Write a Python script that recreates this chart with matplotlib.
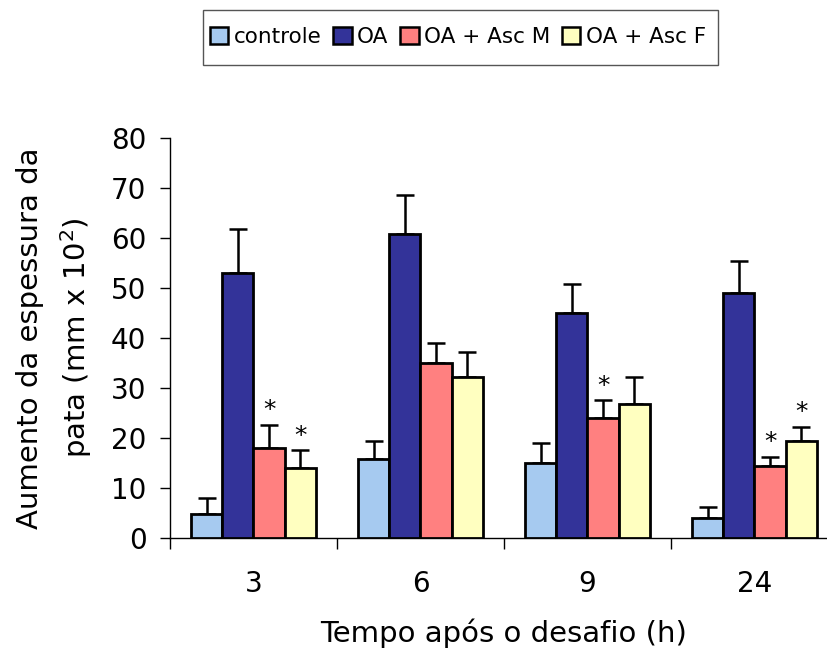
import matplotlib
matplotlib.use("Agg")
import matplotlib.pyplot as plt
from matplotlib.patches import Rectangle
import numpy as np

categories = ["3", "6", "9", "24"]
series_names = ["controle", "OA", "OA + Asc M", "OA + Asc F"]
controle = [4.9, 15.9, 15.1, 4.0]
oa = [53.1, 60.8, 45.0, 49.1]
asc_m = [18.1, 35.0, 24.1, 14.5]
asc_f = [14.0, 32.3, 26.8, 19.5]
err_controle = [3.2, 3.6, 4.0, 2.3]
err_oa = [8.8, 7.9, 5.9, 6.4]
err_asc_m = [4.6, 4.1, 3.6, 1.8]
err_asc_f = [3.7, 5.0, 5.5, 2.8]
# significance markers (category index, series index)
signif = [(0, 2), (0, 3), (2, 2), (3, 2), (3, 3)]
colors = ["#A6CAF0", "#333399", "#FF8080", "#FFFFC0"]

plt.rcParams['font.family'] = ['DejaVu Sans']

fig = plt.figure(figsize=(8.28, 6.61), dpi=100)
W, H = 828, 661
ax = fig.add_axes([170 / W, (H - 538) / H, (838 - 170) / W, 400 / H])

values = [controle, oa, asc_m, asc_f]
errors = [err_controle, err_oa, err_asc_m, err_asc_f]
x = np.arange(len(categories))
w = 0.186
for i, (vals, errs) in enumerate(zip(values, errors)):
    pos = x + (i - 1.5) * w
    ax.bar(pos, vals, width=w, color=colors[i], edgecolor="black",
           linewidth=2.0, label=series_names[i], zorder=3)
    ax.errorbar(pos, vals, yerr=[np.zeros(len(vals)), errs], fmt="none",
                ecolor="black", elinewidth=1.8, capsize=6.5, capthick=1.8, zorder=2)

for (c, s) in signif:
    top = values[s][c] + errors[s][c]
    ax.text(x[c] + (s - 1.5) * w, top + 0.4, "*", ha="center", va="bottom",
            fontsize=18, color="black")

ax.set_xlim(-0.5, 3.5)
ax.set_ylim(0, 80)
ax.set_yticks(np.arange(0, 81, 10))
ax.tick_params(axis="y", labelsize=20, length=7, width=1, direction="out", pad=10)
ax.set_xticks(np.arange(-0.5, 3.6, 1.0))
ax.set_xticklabels([])
ax.tick_params(axis="x", which="major", length=8, width=1, direction="out")
ax.set_xticks(x, minor=True)
ax.set_xticklabels(categories, minor=True)
ax.tick_params(axis="x", which="minor", length=0, labelsize=20, pad=23)

for sp in ["top", "right"]:
    ax.spines[sp].set_visible(False)
ax.spines["left"].set_linewidth(1)
ax.spines["bottom"].set_linewidth(1)

ax.set_xlabel("Tempo após o desafio (h)", fontsize=21, labelpad=15)
ax.set_ylabel("Aumento da espessura da\npata (mm x 10$^{2}$)", fontsize=21,
              labelpad=12, linespacing=1.5)

leg = fig.legend(loc="center", bbox_to_anchor=(458 / W, 1 - 37 / H), ncol=4,
                 fontsize=15.5, frameon=False,
                 handlelength=0.85, handleheight=0.85, handletextpad=0.25,
                 columnspacing=0.55, borderpad=0.3, borderaxespad=0)
for h in leg.legend_handles:
    h.set_linewidth(1.8)
fig.add_artist(Rectangle((203 / W, 1 - 65 / H), (718 - 203) / W, 55 / H,
                         transform=fig.transFigure, facecolor="none",
                         edgecolor="#555555", linewidth=1))

fig.savefig("out.png", dpi=100)
